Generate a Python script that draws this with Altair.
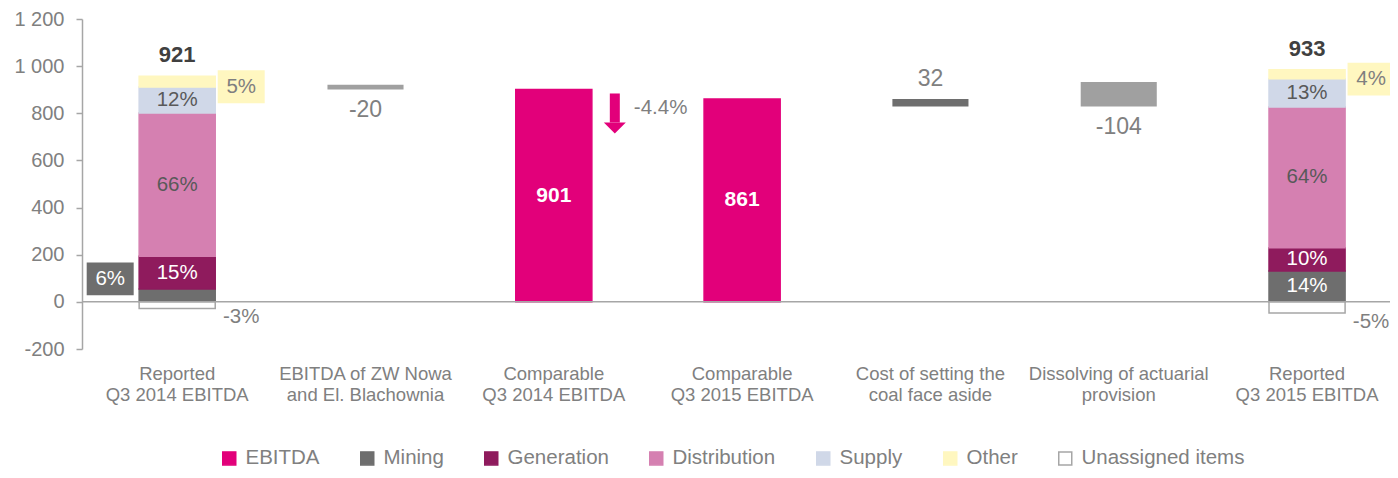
import altair as alt
import pandas as pd

# ---------------- data ----------------
categories = [
    "Reported|Q3 2014 EBITDA",
    "EBITDA of ZW Nowa|and El. Blachownia",
    "Comparable|Q3 2014 EBITDA",
    "Comparable|Q3 2015 EBITDA",
    "Cost of setting the|coal face aside",
    "Dissolving of actuarial|provision",
    "Reported|Q3 2015 EBITDA",
]
segments = ["Mining", "Generation", "Distribution", "Supply", "Other", "Unassigned items"]
seg_2014 = [55, 138, 608, 110, 46, -28]
seg_2015 = [131, 99, 597, 120, 38, -47]
pct_2014 = ["6%", "15%", "66%", "12%", "5%", "-3%"]
pct_2015 = ["14%", "10%", "64%", "13%", "4%", "-5%"]
reported = [921, 933]
comparable = [901, 861]
bridge_cats = [categories[1], categories[4], categories[5]]
bridge_values = [-20, 32, -104]
change_label = "-4.4%"

legend_domain = ["EBITDA"] + segments
legend_fill = ["#e2007a", "#6e6e6e", "#8f1b5d", "#d580b1", "#d0d8e8", "#fff7c0", "#ffffff"]
legend_stroke = ["#e2007a", "#6e6e6e", "#8f1b5d", "#d580b1", "#d0d8e8", "#fff7c0", "#a6a6a6"]

# ---------------- tables ----------------
rows = []
for cat, vals, pcts, period in [(categories[0], seg_2014, pct_2014, "2014"),
                                (categories[6], seg_2015, pct_2015, "2015")]:
    pos = 0
    for s, v, p in zip(segments, vals, pcts):
        if v >= 0:
            y0, y1 = pos, pos + v
            pos = y1
        else:
            y0, y1 = 0, v
        rows.append(dict(cat=cat, series=s, y0=y0, y1=y1, mid=(y0 + y1) / 2, pct=p, period=period))
for cat, v in zip([categories[2], categories[3]], comparable):
    rows.append(dict(cat=cat, series="EBITDA", y0=0, y1=v, mid=v / 2, pct=str(v), period="c"))
seg_df = pd.DataFrame(rows)

tot_rows = []
for cat, period, tot in [(categories[0], "2014", reported[0]), (categories[6], "2015", reported[1])]:
    top = seg_df[(seg_df.period == period) & (seg_df.y1 > 0)].y1.max()
    tot_rows.append(dict(cat=cat, top=top, label=str(tot)))
tot_df = pd.DataFrame(tot_rows)

# waterfall bridges
b_rows = []
level = reported[0]
b_rows.append(dict(cat=bridge_cats[0], y0=level, y1=level + bridge_values[0], val=bridge_values[0]))
level = comparable[1]
end = level - bridge_values[1]
b_rows.append(dict(cat=bridge_cats[1], y0=level, y1=end, val=bridge_values[1]))
level = end
end = level - bridge_values[2]
b_rows.append(dict(cat=bridge_cats[2], y0=level, y1=end, val=bridge_values[2]))
b_df = pd.DataFrame(b_rows)
b_df["label"] = b_df.val.astype(str)
b_df["top"] = b_df[["y0", "y1"]].max(axis=1)
b_df["bottom"] = b_df[["y0", "y1"]].min(axis=1)

# arrow annotation (change between comparable values)
arrow_df = pd.DataFrame([dict(cat=categories[2], a0=884, a1=761, head=738, txt=821, label=change_label)])

# ---------------- encodings ----------------
yscale = alt.Scale(domain=[-200, 1200], nice=False, zero=False)
y_axis = alt.Axis(
    values=list(range(-200, 1201, 200)),
    labelExpr="replace(replace(format(datum.value, ','), ',', ' '), '\u2212', '-')",
    grid=False, domainColor="#a6a6a6", domainWidth=1.5, tickColor="#a6a6a6", tickWidth=1.5,
    tickSize=6, labelColor="#808080", labelFontSize=20, labelPadding=12, title=None,
)
x_axis = alt.Axis(
    labelExpr="split(datum.label, '|')", domain=False, ticks=False, labelAngle=0,
    labelColor="#808080", labelFontSize=18.5, labelLineHeight=21, labelPadding=15,
    title=None, labelLimit=300, labelOverlap=False,
)
xscale = alt.Scale(paddingInner=0.596, paddingOuter=0.271, align=0.56)


def X():
    return alt.X("cat:N", sort=categories, scale=xscale, axis=x_axis)


def Y(field):
    return alt.Y(field, scale=yscale, axis=y_axis)


legend = alt.Legend(
    title=None, orient="none", direction="horizontal", legendX=137, legendY=429,
    symbolType="square", symbolSize=169, symbolStrokeWidth=1.5, labelFontSize=20.5,
    labelColor="#808080", columnPadding=37, labelOffset=6, symbolOpacity=1, labelLimit=400,
)

bars = alt.Chart(seg_df).mark_bar(strokeWidth=1.5).encode(
    x=X(), y=Y("y0:Q"), y2="y1:Q",
    fill=alt.Fill("series:N", scale=alt.Scale(domain=legend_domain, range=legend_fill), legend=legend),
    stroke=alt.Stroke("series:N", scale=alt.Scale(domain=legend_domain, range=legend_stroke), legend=legend),
)

bridges = alt.Chart(b_df).mark_bar().encode(
    x=X(), y=Y("y0:Q"), y2="y1:Q",
    color=alt.condition("datum.val > 0", alt.value("#6e6e6e"), alt.value("#a0a0a0")),
)

zero = alt.Chart(pd.DataFrame({"z": [0]})).mark_rule(color="#a6a6a6", strokeWidth=1.5).encode(y=Y("z:Q"))

inside = alt.Chart(seg_df).transform_filter(
    "datum.series != 'Other' && datum.series != 'Unassigned items' && datum.series != 'EBITDA' "
    "&& !(datum.series == 'Mining' && datum.period == '2014')"
).mark_text(fontSize=20.5, baseline="middle").encode(
    x=X(), y=Y("mid:Q"), text="pct:N",
    color=alt.condition("datum.series == 'Mining' || datum.series == 'Generation'",
                        alt.value("white"), alt.value("#595959")),
)

ebitda_lbl = alt.Chart(seg_df).transform_filter("datum.series == 'EBITDA'").mark_text(
    fontSize=21, fontWeight="bold", color="white", baseline="middle"
).encode(x=X(), y=Y("mid:Q"), text="pct:N")

# callout boxes: Other (yellow, right) and Mining 2014 (grey, left)
box_shape = "M-1,-0.7L1,-0.7L1,0.7L-1,0.7Z"
other_box = alt.Chart(seg_df).transform_filter("datum.series == 'Other'").mark_point(
    shape=box_shape, size=2209, filled=True, fill="#fff7c0", opacity=1, yOffset=5, xOffset=64
).encode(x=X(), y=Y("mid:Q"))
other_txt = alt.Chart(seg_df).transform_filter("datum.series == 'Other'").mark_text(
    fontSize=20.5, color="#7f7f7f", baseline="middle", dy=5, dx=64
).encode(x=X(), y=Y("mid:Q"), text="pct:N")

mining_box = alt.Chart(seg_df).transform_filter("datum.series == 'Mining' && datum.period == '2014'").mark_point(
    shape=box_shape, size=2209, filled=True, fill="#6e6e6e", opacity=1, yOffset=-10, xOffset=-67
).encode(x=X(), y=Y("y1:Q"))
mining_txt = alt.Chart(seg_df).transform_filter("datum.series == 'Mining' && datum.period == '2014'").mark_text(
    fontSize=20.5, color="white", baseline="middle", dy=-10, dx=-67
).encode(x=X(), y=Y("y1:Q"), text="pct:N")

unassigned_txt = alt.Chart(seg_df).transform_filter("datum.series == 'Unassigned items'").mark_text(
    fontSize=20.5, color="#7f7f7f", baseline="middle", dy=9, dx=64
).encode(x=X(), y=Y("y1:Q"), text="pct:N")

totals_txt = alt.Chart(tot_df).mark_text(
    fontSize=22, fontWeight="bold", color="#404040", baseline="middle", dy=-21
).encode(x=X(), y=Y("top:Q"), text="label:N")

bridge_up = alt.Chart(b_df).transform_filter("datum.val > 0").mark_text(
    fontSize=23, color="#808080", baseline="middle", dy=-20
).encode(x=X(), y=Y("top:Q"), text="label:N")
bridge_dn = alt.Chart(b_df).transform_filter("datum.val < 0").mark_text(
    fontSize=23, color="#808080", baseline="middle", dy=21
).encode(x=X(), y=Y("bottom:Q"), text="label:N")

arrow_shaft = alt.Chart(arrow_df).mark_rule(
    color="#e2007a", strokeWidth=10, strokeCap="butt", xOffset=61
).encode(x=X(), y=Y("a0:Q"), y2="a1:Q")
arrow_head = alt.Chart(arrow_df).mark_point(
    shape="M-1,-0.5L1,-0.5L0,0.5Z", size=484, filled=True, fill="#e2007a", opacity=1, xOffset=61
).encode(x=X(), y=Y("head:Q"))
arrow_txt = alt.Chart(arrow_df).mark_text(
    fontSize=20.5, color="#7f7f7f", align="left", baseline="middle", dx=80
).encode(x=X(), y=Y("txt:Q"), text="label:N")

chart = alt.layer(
    bars, bridges, zero, inside, ebitda_lbl, other_box, other_txt, mining_box, mining_txt,
    unassigned_txt, totals_txt, bridge_up, bridge_dn, arrow_shaft, arrow_head, arrow_txt,
).properties(
    width=1308, height=330,
    autosize=alt.AutoSizeParams(type="none"),
    padding={"left": 74, "top": 11, "right": 0, "bottom": 121},
).configure(font="Liberation Sans").configure_view(stroke=None)

chart.save("out.html", embed_options={"renderer": "svg", "actions": False})
